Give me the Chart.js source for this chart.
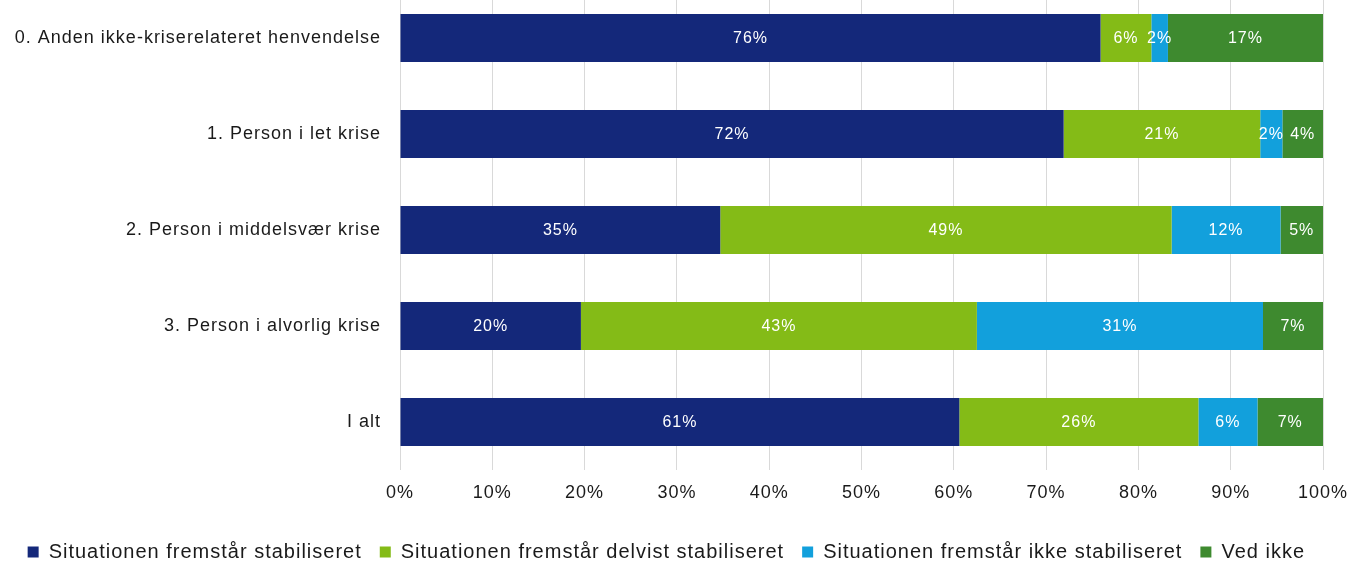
<!DOCTYPE html>
<html>
<head>
<meta charset="utf-8">
<script src="https://cdn.jsdelivr.net/npm/chart.js@4"></script>
<style>
  html, body { margin: 0; padding: 0; background: #fff; overflow: hidden; }
  #wrap { position: absolute; left: 0; top: -10px; width: 1351px; height: 582px; }
</style>
</head>
<body>
<div id="wrap"><canvas id="chart"></canvas></div>
<script>
"use strict";

const categories = [
  "0. Anden ikke-kriserelateret henvendelse",
  "1. Person i let krise",
  "2. Person i middelsvær krise",
  "3. Person i alvorlig krise",
  "I alt"
];

const seriesNames = [
  "Situationen fremstår stabiliseret",
  "Situationen fremstår delvist stabiliseret",
  "Situationen fremstår ikke stabiliseret",
  "Ved ikke"
];

const stabiliseret = [75.9, 71.9, 34.7, 19.6, 60.6];
const delvist = [5.5, 21.3, 48.9, 42.9, 25.9];
const ikkeStabiliseret = [1.8, 2.4, 11.8, 31.0, 6.4];
const vedIkke = [16.8, 4.4, 4.6, 6.5, 7.1];

const xTicks = [0, 10, 20, 30, 40, 50, 60, 70, 80, 90, 100];

const colors = ["#14287a", "#84bb17", "#12a0dc", "#3e8a2f"];
const fontFamily = "'Liberation Sans', Arial, sans-serif";

// loose letter spacing like the original rendering
const spacingPlugin = {
  id: "spacing",
  beforeUpdate(chart) { chart.ctx.letterSpacing = "1px"; },
  beforeDraw(chart) { chart.ctx.letterSpacing = "1px"; }
};

// white percent labels in the middle of each segment
const valueLabels = {
  id: "valueLabels",
  afterDatasetsDraw(chart) {
    const ctx = chart.ctx;
    ctx.save();
    ctx.font = "16px " + fontFamily;
    ctx.fillStyle = "#ffffff";
    ctx.textAlign = "center";
    ctx.textBaseline = "middle";
    chart.data.datasets.forEach((ds, i) => {
      chart.getDatasetMeta(i).data.forEach((bar, j) => {
        const p = bar.getProps(["x", "y", "base"], true);
        ctx.fillText(Math.round(ds.data[j]) + "%", (p.x + p.base) / 2, p.y + 1);
      });
    });
    ctx.restore();
  }
};

const seriesValues = [stabiliseret, delvist, ikkeStabiliseret, vedIkke];

new Chart(document.getElementById("chart"), {
  type: "bar",
  data: {
    labels: categories,
    datasets: seriesValues.map((vals, i) => ({
      label: seriesNames[i],
      data: vals,
      backgroundColor: colors[i],
      borderWidth: 0,
      categoryPercentage: 1,
      barPercentage: 0.5
    }))
  },
  options: {
    indexAxis: "y",
    responsive: true,
    maintainAspectRatio: false,
    animation: false,
    layout: { padding: { left: 0, right: 28, top: 0, bottom: 0 } },
    scales: {
      x: {
        stacked: true,
        min: 0,
        max: 100,
        afterBuildTicks(axis) { axis.ticks = xTicks.map(v => ({ value: v })); },
        afterFit(axis) {
          axis.height = 53.9;
          axis.paddingLeft = 0;
          axis.paddingRight = 0;
        },
        grid: { color: "#d9d9d9", lineWidth: 1, drawTicks: false },
        border: { display: false },
        ticks: {
          padding: 12,
          color: "#1a1a1a",
          font: { family: fontFamily, size: 18 },
          callback: v => v + "%"
        }
      },
      y: {
        stacked: true,
        afterFit(axis) {
          axis.width = 400;
          axis.paddingTop = 0;
          axis.paddingBottom = 0;
        },
        grid: { display: false, drawTicks: false },
        border: { display: false },
        ticks: {
          padding: 19,
          color: "#1a1a1a",
          font: { family: fontFamily, size: 18 }
        }
      }
    },
    plugins: {
      legend: {
        position: "bottom",
        align: "end",
        labels: {
          boxWidth: 11,
          boxHeight: 11,
          padding: 18,
          color: "#1a1a1a",
          font: { family: fontFamily, size: 20 }
        }
      },
      tooltip: { enabled: false }
    }
  },
  plugins: [spacingPlugin, valueLabels]
});
</script>
</body>
</html>
